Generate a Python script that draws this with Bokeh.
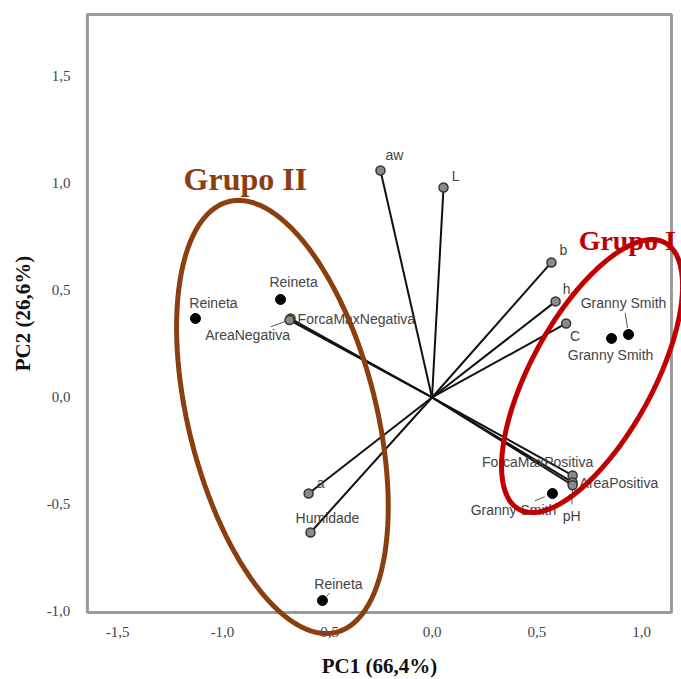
import math
from bokeh.plotting import figure
from bokeh.models import (ColumnDataSource, FixedTicker, CustomJSTickFormatter,
                          PolyAnnotation, Label, BoxAnnotation)
from bokeh.core.properties import value
from bokeh.embed import file_html
from bokeh.resources import INLINE

# ---------------- data ----------------
var_names = ["aw", "L", "b", "h", "C", "ForcaMaxNegativa", "AreaNegativa",
             "ForcaMaxPositiva", "AreaPositiva", "pH", "a", "Humidade"]
var_pc1 = [-0.246, 0.055, 0.570, 0.590, 0.640, -0.675, -0.680,
           0.671, 0.671, 0.671, -0.589, -0.580]
var_pc2 = [1.061, 0.981, 0.631, 0.449, 0.346, 0.369, 0.362,
           -0.364, -0.397, -0.410, -0.449, -0.631]

obj_names = ["Reineta", "Reineta", "Reineta", "Granny Smith", "Granny Smith", "Granny Smith"]
obj_pc1 = [-1.129, -0.723, -0.523, 0.938, 0.857, 0.575]
obj_pc2 = [0.369, 0.458, -0.949, 0.294, 0.276, -0.449]

x_ticks = [-1.5, -1.0, -0.5, 0.0, 0.5, 1.0]
y_ticks = [-1.0, -0.5, 0.0, 0.5, 1.0, 1.5]
x_title = "PC1 (66,4%)"
y_title = "PC2 (26,6%)"
group_names = ["Grupo I", "Grupo II"]

# ---------------- layout ----------------
W, H = 681, 679
BOX_X = (-1.645, 1.143)
BOX_Y = (-1.005, 1.790)
X0, X1 = -2.0597, 1.1909
Y0, Y1 = -1.3178, 1.8551
SX, SY = W / (X1 - X0), H / (Y1 - Y0)

var_lab = {
    "aw": (14, -15, "center"), "L": (12, -12, "center"), "b": (12, -12, "center"),
    "h": (11, -12, "center"), "C": (9, 13, "center"),
    "ForcaMaxNegativa": (7, 0, "left"), "AreaNegativa": (-42, 15, "center"),
    "ForcaMaxPositiva": (-35, -13, "center"), "AreaPositiva": (7, 1, "left"),
    "pH": (-1, 31, "center"), "a": (12, -11, "center"), "Humidade": (17, -15, "center"),
}
obj_lab = [(18, -16), (13, -17), (16, -17), (-5, -32), (-1, 17), (-39, 16)]
leaders_var = {"AreaNegativa": (0.1, 0.45), "pH": (0.05, 0.62)}
leaders_obj = {3: (0.2, 0.68), 5: (0.2, 0.45), 2: (0.25, 0.45)}

p = figure(width=W, height=H, x_range=(X0, X1), y_range=(Y0, Y1),
           output_backend="svg", toolbar_location=None,
           min_border_left=0, min_border_right=0, min_border_top=0, min_border_bottom=0,
           background_fill_color="white", border_fill_color="white")
p.grid.visible = False
p.outline_line_color = None

p.add_layout(BoxAnnotation(left=BOX_X[0], right=BOX_X[1], bottom=BOX_Y[0], top=BOX_Y[1],
                           fill_alpha=0, line_color="#9a9a9a", line_alpha=1, line_width=3,
                           level="underlay"))

fmt = CustomJSTickFormatter(code="return tick.toFixed(1).replace('.', ',');")
for ax, ticks, title, bnds in ((p.xaxis, x_ticks, x_title, BOX_X),
                               (p.yaxis, y_ticks, y_title, BOX_Y)):
    ax.ticker = FixedTicker(ticks=ticks)
    ax.formatter = fmt
    ax.bounds = bnds
    ax.axis_line_color = None
    ax.major_tick_line_color = None
    ax.minor_tick_line_color = None
    ax.major_label_text_font = "Liberation Serif"
    ax.major_label_text_font_size = "15px"
    ax.major_label_text_color = "#444444"
    ax.axis_label = title
    ax.axis_label_text_font = "Liberation Serif"
    ax.axis_label_text_font_style = "bold"
    ax.axis_label_text_font_size = "21px"
    ax.axis_label_text_color = "#111111"
p.xaxis.fixed_location = BOX_Y[0]
p.yaxis.fixed_location = BOX_X[0]
p.xaxis.major_label_standoff = 8
p.xaxis.axis_label_standoff = 14
p.yaxis.major_label_standoff = 11
p.yaxis.axis_label_standoff = 9

# vectors
p.segment(x0=[0.0] * len(var_pc1), y0=[0.0] * len(var_pc2), x1=var_pc1, y1=var_pc2,
          line_color="#111111", line_width=2)

# leader lines
lx0, ly0, lx1, ly1 = [], [], [], []
for n, (f0, f1) in leaders_var.items():
    i = var_names.index(n)
    dx, dy, _ = var_lab[n]
    lx0.append(var_pc1[i] + f0 * dx / SX); ly0.append(var_pc2[i] - f0 * dy / SY)
    lx1.append(var_pc1[i] + f1 * dx / SX); ly1.append(var_pc2[i] - f1 * dy / SY)
for i, (f0, f1) in leaders_obj.items():
    dx, dy = obj_lab[i]
    lx0.append(obj_pc1[i] + f0 * dx / SX); ly0.append(obj_pc2[i] - f0 * dy / SY)
    lx1.append(obj_pc1[i] + f1 * dx / SX); ly1.append(obj_pc2[i] - f1 * dy / SY)
p.segment(x0=lx0, y0=ly0, x1=lx1, y1=ly1, line_color="#555555", line_width=1)

p.scatter(var_pc1, var_pc2, size=9, fill_color="#8a8a8a", line_color="#333333", line_width=1.5)
p.scatter(obj_pc1, obj_pc2, size=10, fill_color="black", line_color="black")

# labels
for align in ("left", "center"):
    idx = [i for i, n in enumerate(var_names) if var_lab[n][2] == align]
    src = ColumnDataSource(dict(
        x=[var_pc1[i] for i in idx], y=[var_pc2[i] for i in idx],
        t=[var_names[i] for i in idx],
        dx=[var_lab[var_names[i]][0] for i in idx],
        dy=[var_lab[var_names[i]][1] for i in idx]))
    p.text(x="x", y="y", text="t", x_offset="dx", y_offset="dy", source=src,
           text_align=align, text_baseline="middle", text_font=value("Liberation Sans"),
           text_font_size="14px", text_color="#444444")
src_o = ColumnDataSource(dict(x=obj_pc1, y=obj_pc2, t=obj_names,
                              dx=[o[0] for o in obj_lab], dy=[o[1] for o in obj_lab]))
p.text(x="x", y="y", text="t", x_offset="dx", y_offset="dy", source=src_o,
       text_align="center", text_baseline="middle", text_font=value("Liberation Sans"),
       text_font_size="14px", text_color="#444444")

# group ellipses
def ellipse(cx, cy, a_px, b_px, theta_deg, n=120):
    th = math.radians(theta_deg)
    ux, uy = -math.sin(th), math.cos(th)
    vx, vy = math.cos(th), math.sin(th)
    xs, ys = [], []
    for k in range(n + 1):
        t = 2 * math.pi * k / n
        px = a_px * math.cos(t) * ux + b_px * math.sin(t) * vx
        py = a_px * math.cos(t) * uy + b_px * math.sin(t) * vy
        xs.append(cx + px / SX)
        ys.append(cy + py / SY)
    return xs, ys

bx, by = ellipse(-0.714, -0.091, 222, 94, 14)
rx, ry = ellipse(0.764, 0.100, 152, 61, -28.7)
p.add_layout(PolyAnnotation(xs=bx, ys=by, fill_alpha=0, line_color="#8B3E0F",
                            line_alpha=1, line_width=5))
p.add_layout(PolyAnnotation(xs=rx, ys=ry, fill_alpha=0, line_color="#C00000",
                            line_alpha=1, line_width=5))

p.add_layout(Label(x=0.700, y=0.662, text=group_names[0], text_font="Liberation Serif",
                   text_font_style="bold", text_font_size="28px", text_color="#C00000"))
p.add_layout(Label(x=-1.186, y=0.935, text=group_names[1], text_font="Liberation Serif",
                   text_font_style="bold", text_font_size="32px", text_color="#8B3E0F"))

open("out.html", "w").write(file_html(p, INLINE))
